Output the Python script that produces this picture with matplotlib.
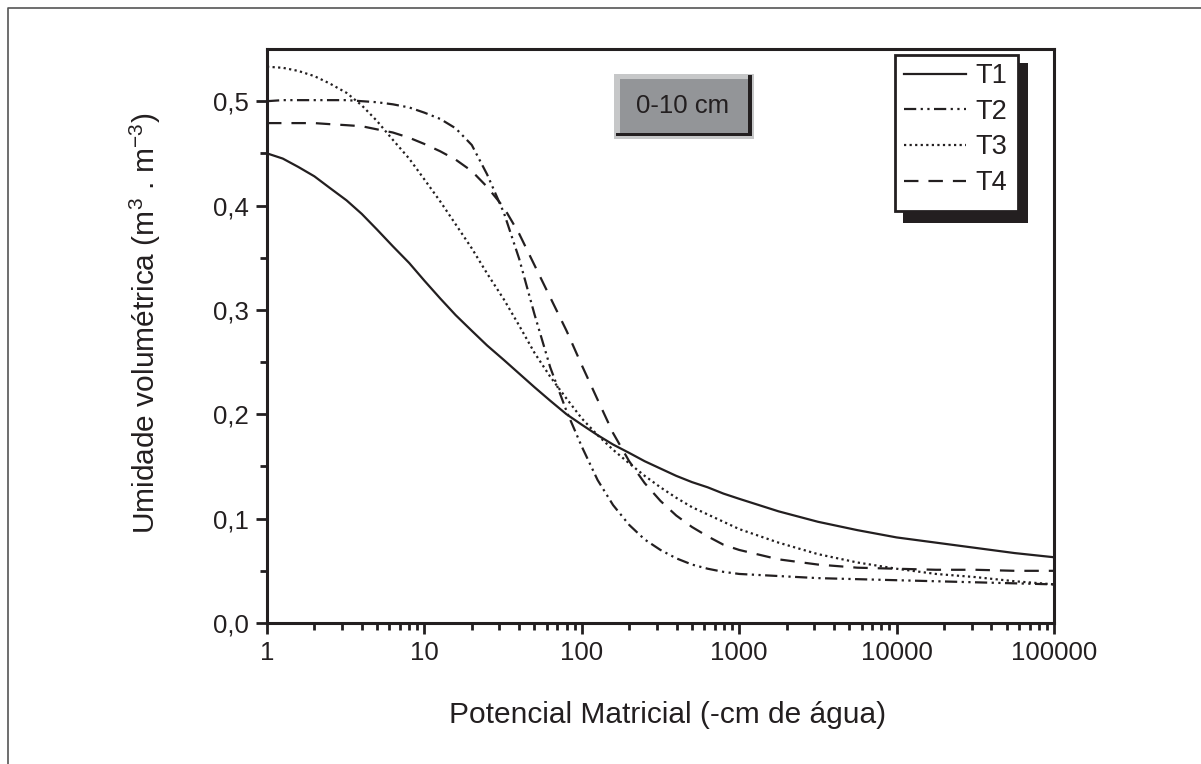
import numpy as np
import matplotlib
matplotlib.use("Agg")
import matplotlib.pyplot as plt
from matplotlib.patches import Rectangle
from matplotlib.lines import Line2D

plt.rcParams['font.family'] = ['Liberation Sans', 'DejaVu Sans']
plt.rcParams['mathtext.fontset'] = 'custom'
plt.rcParams['mathtext.rm'] = 'Liberation Sans'
plt.rcParams['mathtext.it'] = 'Liberation Sans'

# potencial matricial (-cm de agua)
potencial = [1, 1.26, 1.58, 2, 2.5, 3.2, 4, 5, 6.3, 8,
             10, 12.6, 15.8, 20, 25, 32, 40, 50, 63, 80,
             100, 126, 158, 200, 251, 316, 398, 501, 631, 794,
             1000, 1778, 3162, 5623, 10000, 17783, 31623, 56234, 100000]

# umidade volumetrica
t1 = [0.450, 0.445, 0.437, 0.428, 0.417, 0.405, 0.392, 0.377, 0.361, 0.345,
      0.328, 0.311, 0.295, 0.280, 0.266, 0.252, 0.239, 0.226, 0.213, 0.200,
      0.190, 0.180, 0.171, 0.163, 0.155, 0.148, 0.141, 0.135, 0.130, 0.124,
      0.119, 0.107, 0.097, 0.089, 0.082, 0.077, 0.072, 0.067, 0.063]
t2 = [0.500, 0.501, 0.501, 0.501, 0.501, 0.501, 0.500, 0.499, 0.497, 0.494,
      0.489, 0.483, 0.474, 0.458, 0.430, 0.393, 0.349, 0.296, 0.245, 0.203,
      0.169, 0.137, 0.113, 0.094, 0.080, 0.070, 0.062, 0.056, 0.052, 0.049,
      0.047, 0.045, 0.043, 0.042, 0.041, 0.040, 0.039, 0.038, 0.037]
t3 = [0.533, 0.532, 0.529, 0.524, 0.517, 0.508, 0.496, 0.481, 0.463, 0.445,
      0.425, 0.404, 0.382, 0.359, 0.335, 0.310, 0.285, 0.259, 0.236, 0.215,
      0.196, 0.180, 0.166, 0.153, 0.141, 0.130, 0.120, 0.111, 0.104, 0.097,
      0.090, 0.077, 0.066, 0.058, 0.052, 0.047, 0.044, 0.040, 0.037]
t4 = [0.479, 0.479, 0.479, 0.479, 0.478, 0.477, 0.476, 0.473, 0.470, 0.465,
      0.459, 0.452, 0.444, 0.433, 0.418, 0.398, 0.373, 0.343, 0.312, 0.280,
      0.247, 0.214, 0.182, 0.155, 0.134, 0.117, 0.103, 0.092, 0.083, 0.075,
      0.070, 0.061, 0.056, 0.053, 0.052, 0.051, 0.051, 0.050, 0.050]

xticks = [1, 10, 100, 1000, 10000, 100000]
xticklabels = ['1', '10', '100', '1000', '10000', '100000']
yticks = [0.0, 0.1, 0.2, 0.3, 0.4, 0.5]
yticklabels = ['0,0', '0,1', '0,2', '0,3', '0,4', '0,5']

ink = '#231f20'
W, H = 1201, 764

fig = plt.figure(figsize=(W / 100, H / 100), dpi=100)
ax = fig.add_axes([267 / W, 1 - 623 / H, (1054 - 267) / W, (623 - 49) / H])

lw = 1.6
l1, = ax.plot(potencial, t1, color=ink, lw=lw, ls='-', label='T1')
l2, = ax.plot(potencial, t2, color=ink, lw=lw, ls=(0, (5.5, 2, 1, 2, 1, 2)), label='T2')
l3, = ax.plot(potencial, t3, color=ink, lw=lw, ls=(0, (1, 1.5)), label='T3')
l4, = ax.plot(potencial, t4, color=ink, lw=lw, ls=(0, (6.5, 4.5)), label='T4')

ax.set_xscale('log')
ax.set_xlim(1, 100000)
ax.set_ylim(0, 0.55)
ax.set_xticks(xticks)
ax.set_xticklabels(xticklabels)
ax.set_yticks(yticks)
ax.set_yticklabels(yticklabels)
ax.set_yticks([0.05, 0.15, 0.25, 0.35, 0.45], minor=True)
ax.xaxis.set_minor_locator(matplotlib.ticker.LogLocator(base=10, subs=np.arange(2, 10)))
ax.xaxis.set_minor_formatter(matplotlib.ticker.NullFormatter())

for s in ax.spines.values():
    s.set_linewidth(2.2)
    s.set_color(ink)
ax.tick_params(which='major', direction='out', length=8, width=2, color=ink,
               labelsize=18.5, labelcolor=ink, pad=5)
ax.tick_params(which='minor', direction='out', length=5, width=2, color=ink)

ax.set_xlabel('Potencial Matricial (-cm de água)', fontsize=21.5, color=ink, labelpad=26)
ax.set_ylabel('Umidade volumétrica (m$^3$ . m$^{-3}$)', fontsize=21.5, color=ink, labelpad=36)
ax.xaxis.label.set_x((668 - 267) / 787)
ax.yaxis.label.set_y((623 - 323) / 574)


def fig_rect(x0, y0, x1, y1, **kw):
    r = Rectangle((x0 / W, 1 - y1 / H), (x1 - x0) / W, (y1 - y0) / H,
                  transform=fig.transFigure, **kw)
    fig.patches.append(r)


# legenda: sombra preta + moldura desenhadas a parte
fig_rect(903, 63, 1028, 223, facecolor=ink, edgecolor='none', zorder=3)
fig_rect(895, 55, 1018, 211, facecolor='white', edgecolor=ink, linewidth=2, zorder=4)
leg = fig.legend(handles=[l1, l2, l3, l4], loc='upper left', bbox_to_anchor=(904 / W, 1 - 63 / H),
                 fontsize=19.5, frameon=False, handlelength=2.3, handletextpad=0.35,
                 labelspacing=0.36, borderaxespad=0, borderpad=0)
leg.set_zorder(5)
for t in leg.get_texts():
    t.set_color(ink)

# caixa "0-10 cm"
fig_rect(614, 74, 754, 139, facecolor='#c6c7c8', edgecolor='none', zorder=3)
fig_rect(620, 79, 749, 134, facecolor='#939598', edgecolor='none', zorder=3)
fig_rect(616, 133, 752, 136, facecolor=ink, edgecolor='none', zorder=3)
fig_rect(748, 75, 752, 136, facecolor=ink, edgecolor='none', zorder=3)
fig.text(683 / W, 1 - 106 / H, '0-10 cm', fontsize=18.5, color=ink, ha='center', va='center', zorder=4)

# moldura externa
fig.lines.append(Line2D([8 / W, 8 / W, 1.0], [0.0, 1 - 8 / H, 1 - 8 / H], transform=fig.transFigure,
                        color='#555555', lw=1.2))

fig.savefig('out.png', dpi=100)
